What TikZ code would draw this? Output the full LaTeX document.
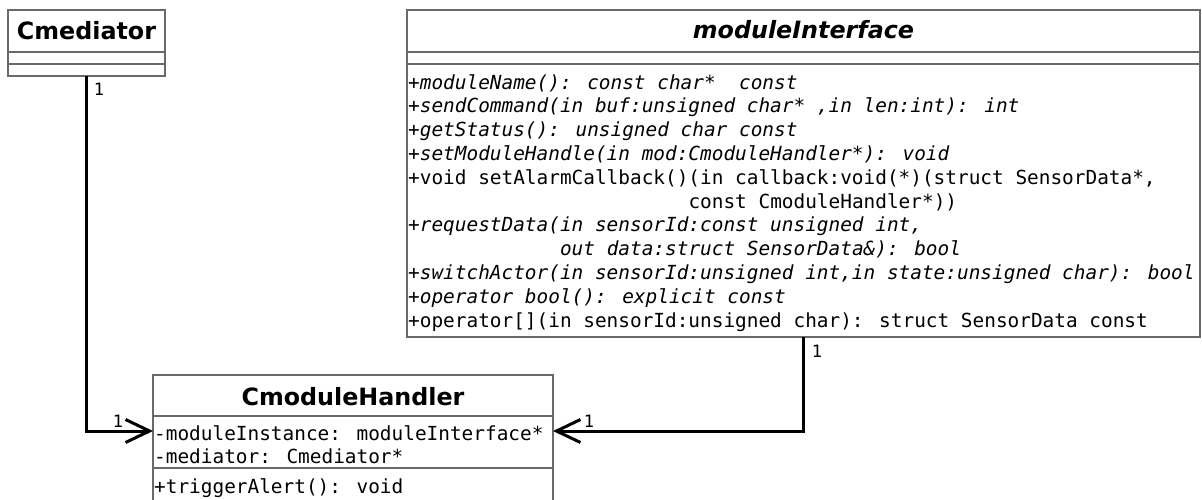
\documentclass[tikz,border=0pt]{standalone}
\usepackage{fontspec}
\setmainfont{DejaVu Sans}
\newfontfamily\umlmono{DejaVu Sans Mono}[ItalicFont={DejaVu Sans Mono Oblique}]
\newfontfamily\umlhead{DejaVu Sans Bold}[ItalicFont={DejaVu Sans Bold Oblique}]
\usetikzlibrary{arrows.meta}
\definecolor{bordergray}{RGB}{105,105,105}

\begin{document}
\begin{tikzpicture}[x=1pt,y=-1pt,
  classbox/.style={draw=bordergray, line width=1.5pt, fill=white, inner sep=0pt,
                   outer sep=0pt, anchor=north west},
  sep/.style={draw=bordergray, line width=1.5pt},
  conn/.style={line width=3pt, line join=miter,
               -{Straight Barb[length=24pt,width=23pt]}},
  op/.style={anchor=base west, inner sep=0pt,
             font=\umlmono\fontsize{19.4}{23.8}\selectfont},
  opi/.style={anchor=base west, inner sep=0pt,
              font=\umlmono\itshape\fontsize{19.4}{23.8}\selectfont},
  classname/.style={anchor=base, inner sep=0pt,
                    font=\umlhead\fontsize{23.8}{28}\selectfont},
  abstractname/.style={anchor=base, inner sep=0pt,
                       font=\umlhead\itshape\fontsize{23.8}{28}\selectfont},
  mult/.style={inner sep=0pt, font=\umlmono\fontsize{17}{20}\selectfont}]

\useasboundingbox (0,0) rectangle (1202,499);
\clip (0,0) rectangle (1202,499);
\fill[white] (0,0) rectangle (1202,499);

% ---- Cmediator ----
\node[classbox, minimum width=157pt, minimum height=66pt] (cmed) at (8,10) {};
\draw[sep] (8,52) -- (165,52);
\draw[sep] (8,64) -- (165,64);
\node[classname] (cmedname) at (86.5,39.7) {Cmediator};

% ---- moduleInterface ----
\node[classbox, minimum width=793pt, minimum height=327pt] (modif) at (407,10) {};
\draw[sep] (407,52) -- (1200,52);
\draw[sep] (407,64) -- (1200,64);
\node[abstractname] (modifname) at (803.5,38.7) {moduleInterface};

\node[opi] (m0)  at (408,89)    {+moduleName(): const char*\ \ const};
\node[opi] (m1)  at (408,112.8) {+sendCommand(in buf:unsigned char* ,in len:int): int};
\node[opi] (m2)  at (408,136.6) {+getStatus(): unsigned char const};
\node[opi] (m3)  at (408,160.4) {+setModuleHandle(in mod:CmoduleHandler*): void};
\node[op]  (m4)  at (408,184.2) {+void setAlarmCallback()(in callback:void(*)(struct SensorData*,};
\node[op]  (m5)  at (408,208)   {\phantom{+void setAlarmCallback()}const CmoduleHandler*))};
\node[opi] (m6)  at (408,231.8) {+requestData(in sensorId:const unsigned int,};
\node[opi] (m7)  at (408,255.6) {\phantom{+requestData(}out data:struct SensorData\&): bool};
\node[opi] (m8)  at (408,279.4) {+switchActor(in sensorId:unsigned int,in state:unsigned char): bool};
\node[opi] (m9)  at (408,303.2) {+operator bool(): explicit const};
\node[op]  (m10) at (408,327)   {+operator[](in sensorId:unsigned char): struct SensorData const};

% ---- CmoduleHandler ----
\node[classbox, minimum width=400pt, minimum height=140pt] (cmh) at (153,375) {};
\draw[sep] (153,416) -- (553,416);
\draw[sep] (153,468) -- (553,468);
\node[classname] (cmhname) at (353,405.7) {CmoduleHandler};
\node[op] (a0) at (154,440)   {-moduleInstance: moduleInterface*};
\node[op] (a1) at (154,463.5) {-mediator: Cmediator*};
\node[op] (h0) at (154,493)   {+triggerAlert(): void};

% ---- associations ----
\coordinate (lvl) at (0,431);
\draw[conn] (cmed.south) |- (cmh.west |- lvl);
\draw[conn] (modif.south) |- (cmh.east |- lvl);

\node[mult] (mcmed) at (99,89)   {1};
\node[mult] (mcmhl) at (118,421) {1};
\node[mult] (mcmhr) at (589,421) {1};
\node[mult] (mmod)  at (817,351) {1};
\end{tikzpicture}
\end{document}
